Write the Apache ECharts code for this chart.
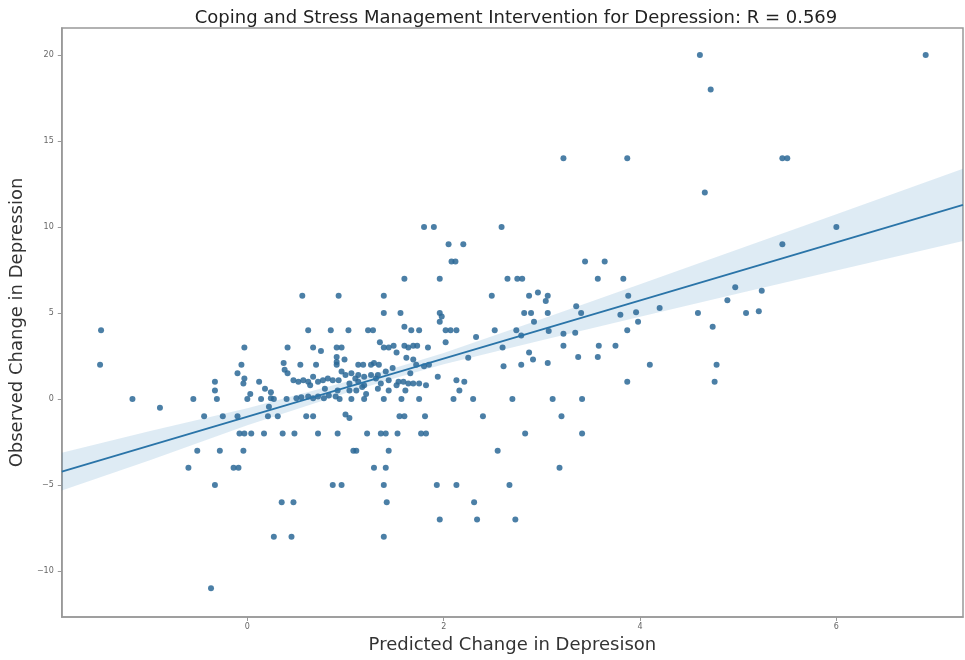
<!DOCTYPE html>
<html>
<head>
<meta charset="utf-8">
<script src="https://cdn.jsdelivr.net/npm/echarts@6/dist/echarts.min.js"></script>
<style>
  html, body { margin: 0; padding: 0; background: #fff; }
  #chart { width: 965px; height: 660px; }
</style>
</head>
<body>
<div id="chart"></div>
<script>
// predicted change (x) and observed change (y) per participant
const pointX = [
  -1.49, -1.50, -1.17, -0.89, -0.55, -0.44, -0.25, -0.10, -0.33, -0.33, -0.31, -0.03, -0.06, -0.10, -0.03, -0.04, 0.03, 0.00,
  0.21, 0.31, 0.60, 0.67, 1.00, 1.04, 1.55, 1.60, 1.81,
  -0.08, -0.03, 0.04, 0.17, 0.36, 0.48, 0.72, 0.92, 1.22, 1.36, 1.41, 1.53, 1.77, 1.82,
  -0.51, -0.28, -0.04, 1.08, 1.11, 1.44,
  -0.60, -0.14, -0.09, 1.29, 1.41,
  -0.33, 0.87, 0.96, 1.39, 1.93,
  0.35, 0.47, 1.42, 1.96, 0.27, 0.45, 1.39, -0.37,
  0.12, 0.18, 0.24, 0.24, 0.27, 0.14, 0.40, 0.56, 0.93, 0.62, 0.85, 0.41, 0.67, 0.75, 0.91, 0.91, 0.91, 0.54, 0.37, 0.38,
  0.41, 0.47, 0.52, 0.57, 0.62, 0.67, 0.72, 0.77, 0.82, 0.87, 0.93, 0.50, 0.55, 0.62, 0.67, 0.72, 0.78, 0.83, 0.90, 0.22,
  0.70, 0.96,
  1.80, 1.90, 2.05, 2.20, 2.08, 2.12, 1.60, 1.96, 1.39, 1.39, 1.56, 1.96, 1.98, 1.96, 1.03, 1.23, 1.28, 1.60, 1.67, 1.75,
  2.02, 2.07, 2.13, 2.02, 2.33,
  1.35, 1.39, 1.44, 1.49, 1.60, 1.64, 1.69, 1.73, 1.84, 0.99, 0.91, 1.13, 1.18, 1.26, 1.29, 1.34, 1.52, 1.62, 1.69, 1.72,
  1.80, 1.85, 2.25,
  0.96, 1.06, 1.13, 1.19, 1.26, 1.33, 1.41,
  1.04, 1.13, 1.19, 1.36, 1.44, 1.54, 1.59, 1.64, 1.69, 1.75, 1.82, 1.94, 2.13, 2.21, 2.16,
  0.92, 1.04, 1.11, 1.33, 1.44, 1.61,
  0.94, 1.06, 1.19, 1.39, 1.57, 1.75, 2.10, 2.30, 2.40,
  1.10, 1.17, 1.31, 1.48, 1.52, 1.66, 0.79, 0.64, 1.00, 1.21,
  2.59, 2.65, 2.75, 2.80, 2.49, 2.87, 2.96, 3.06, 2.82, 2.89, 3.06, 2.92, 2.52, 2.74, 2.60, 2.87, 2.91, 3.06, 2.61, 2.79,
  3.22, 3.87, 3.44, 3.64, 3.57, 3.83, 3.04, 3.88, 3.35, 3.40, 3.80, 3.96, 3.98, 4.20, 4.59, 2.79, 3.07, 3.22, 3.34, 3.87,
  3.22, 3.58, 3.75,
  3.37, 3.57, 4.10, 3.87, 2.70, 3.11, 3.41, 3.20, 2.83, 3.41, 2.55, 3.18, 2.13, 2.67, 2.31, 2.34, 2.73,
  4.61, 6.91, 4.72, 5.45, 5.50, 4.66, 6.00, 5.45, 4.97, 4.89, 5.24, 5.08, 5.21, 4.74, 4.78, 4.76
];
const pointY = [
  4, 2, 0, -0.5, 0, -1, -1, -1, 1, 0.5, 0, 3, 2, 1.5, 1.2, 0.9, 0.3, 0,
  -1, -1, -1, -1, -0.9, -1.1, -1, -1, -1,
  -2, -2, -2, -2, -2, -2, -2, -2, -2, -2, -2, -2, -2, -2,
  -3, -3, -3, -3, -3, -3,
  -4, -4, -4, -4, -4,
  -5, -5, -5, -5, -5,
  -6, -6, -6, -7, -8, -8, -8, -11,
  1, 0.6, 0.4, 0.05, 0, 0, 0, 6, 6, 4, 4, 3, 3, 2.8, 3, 2.45, 2.15, 2, 2.1, 1.7,
  1.5, 1.1, 1.0, 1.1, 1.0, 1.3, 1.0, 1.1, 1.2, 1.1, 1.1, 0.05, 0.1, 0.15, 0.05, 0.15, 0.05, 0.2, 0.15, -0.45,
  2, 3,
  10, 10, 9, 9, 8, 8, 7, 7, 6, 5, 5, 5, 4.8, 4.5, 4, 4, 4, 4.2, 4, 4,
  4, 4, 4, 3.3, 3.6,
  3.3, 3, 3, 3.1, 3.1, 3.0, 3.1, 3.1, 3, 2.3, 2.0, 2, 2, 2, 2.1, 2, 2.7, 2.4, 2.3, 2,
  1.9, 2, 2.4,
  1.6, 1.5, 1.4, 1.3, 1.4, 1.4, 1.6,
  0.9, 1, 0.8, 0.9, 1.1, 1, 1, 0.9, 0.9, 0.9, 0.8, 1.3, 1.1, 1, 0.5,
  0.5, 0.5, 0.5, 0.6, 0.5, 0.5,
  0, 0, 0, 0, 0, 0, 0, 0, -1,
  1.2, 0.7, 1.2, 1.8, 0.8, 1.5, 0.6, 0.8, 1.4, 0.3,
  10, 7, 7, 7, 6, 6, 6.2, 6, 5, 5, 5, 4.5, 4, 4, 3, 2.7, 2.3, 2.1, 1.9, 2.0,
  14, 14, 8, 8, 7, 7, 5.7, 6, 5.4, 5, 4.9, 5.05, 4.5, 5.3, 5, 3.7, 3.95, 3.8, 3.85, 4,
  3.1, 3.1, 3.1,
  2.45, 2.45, 2.0, 1, 0, 0, 0, -1, -2, -2, -3, -4, -5, -5, -6, -7, -7,
  20, 20, 18, 14, 14, 12, 10, 9, 6.5, 5.75, 6.3, 5.0, 5.1, 4.2, 2.0, 1.0
];

// regression line and its confidence band
const fitX = [-1.89, 7.29];
const fitY = [-4.22, 11.29];
const bandX = [-1.89, -1, 0, 1, 1.5, 2, 3, 4, 5, 6, 7.29];
const bandLow = [-5.32, -3.57, -1.53, 0.33, 1.21, 2.02, 3.42, 4.78, 6.13, 7.47, 9.19];
const bandHigh = [-3.12, -1.87, -0.53, 0.99, 1.81, 2.68, 4.66, 6.68, 8.71, 10.75, 13.39];

const xTicks = [0, 2, 4, 6];
const yTicks = [-10, -5, 0, 5, 10, 15, 20];

const chart = echarts.init(document.getElementById('chart'));

const fmt = v => (v < 0 ? '\u2212' + (-v) : String(v));

const axisCommon = {
  type: 'value',
  nameLocation: 'middle',
  nameTextStyle: { fontFamily: 'DejaVu Sans', fontSize: 18, color: '#333' },
  axisLine: { show: true, onZero: false, lineStyle: { color: '#999', width: 1.5 } },
  axisTick: { show: true, length: 4, lineStyle: { color: '#999' } },
  axisLabel: { fontFamily: 'DejaVu Sans', fontSize: 8, color: '#666', formatter: fmt },
  splitLine: { show: false }
};

chart.setOption({
  backgroundColor: '#fff',
  animation: false,
  title: {
    text: 'Coping and Stress Management Intervention for Depression: R = 0.569',
    left: 511, top: 4, textAlign: 'center',
    textStyle: { fontFamily: 'DejaVu Sans', fontSize: 18, fontWeight: 'normal', color: '#222' }
  },
  grid: { left: 60, right: 2, top: 28, bottom: 43, show: true, borderColor: '#999', borderWidth: 1.5 },
  xAxis: Object.assign({}, axisCommon, {
    min: -1.89, max: 7.29,
    name: 'Predicted Change in Depresison', nameGap: 14,
    axisTick: Object.assign({}, axisCommon.axisTick, { customValues: xTicks }),
    axisLabel: Object.assign({}, axisCommon.axisLabel, { customValues: xTicks, margin: 6 })
  }),
  yAxis: Object.assign({}, axisCommon, {
    min: -12.67, max: 21.57,
    name: 'Observed Change in Depression', nameGap: 30,
    axisTick: Object.assign({}, axisCommon.axisTick, { customValues: yTicks }),
    axisLabel: Object.assign({}, axisCommon.axisLabel, { customValues: yTicks, margin: 8 })
  }),
  series: [
    {
      type: 'custom',
      clip: true,
      silent: true,
      data: [[bandX[0], bandLow[0]]],
      renderItem: function (params, api) {
        const pts = [];
        for (let i = 0; i < bandX.length; i++) pts.push(api.coord([bandX[i], bandHigh[i]]));
        for (let i = bandX.length - 1; i >= 0; i--) pts.push(api.coord([bandX[i], bandLow[i]]));
        return { type: 'polygon', shape: { points: pts }, style: { fill: 'rgba(31,119,180,0.15)' } };
      },
      z: 1
    },
    {
      type: 'scatter',
      symbolSize: 6,
      data: pointX.map((x, i) => [x, pointY[i]]),
      itemStyle: { color: '#2c6896', opacity: 0.85 },
      z: 2
    },
    {
      type: 'line',
      data: fitX.map((x, i) => [x, fitY[i]]),
      showSymbol: false,
      lineStyle: { color: '#2a74a8', width: 1.8 },
      z: 3
    }
  ]
});
</script>
</body>
</html>
